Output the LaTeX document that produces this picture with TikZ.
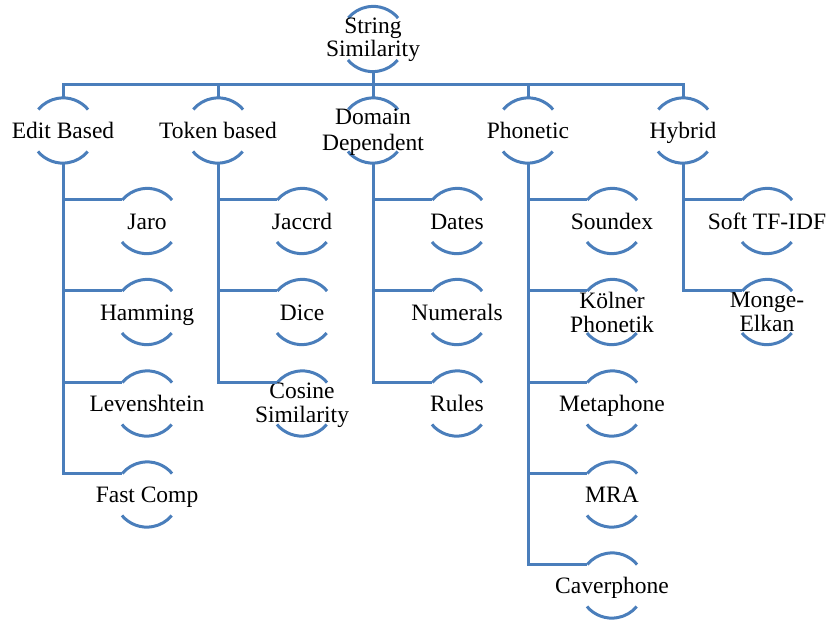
\documentclass[tikz,border=0pt]{standalone}
\usepackage{fontspec}
\setmainfont{Liberation Serif}
\newfontfamily\tnr{Liberation Serif}
\definecolor{lineblue}{HTML}{4A7EBB}
\newcommand\drawarcs[1]{%
  \draw[arcline] (#1.40) arc[start angle=40,end angle=140,radius=32.5pt]
                 (#1.220) arc[start angle=220,end angle=320,radius=32.5pt];}
\newcommand\arcnode[4]{%
  \node[ring] (#1) at (#2,#3) {};
  \drawarcs{#1}
  \node[lbl,text height=21pt,text depth=5pt] (#1-t) at (#1) {#4};}
% two-line node: #5 = line distance, #6 = vertical shift of the text block
\newcommand\arcnodeii[6]{%
  \node[ring] (#1) at (#2,#3) {};
  \drawarcs{#1}
  \node[lbl,align=center,font=\tnr\fontsize{23.5}{#5}\selectfont,yshift=-#6] (#1-t) at (#1) {#4};}
\begin{document}
\begin{tikzpicture}[x=1pt,y=-1pt,
  conn/.style={draw=lineblue,line width=3pt},
  arcline/.style={draw=lineblue,line width=3pt},
  ring/.style={circle,minimum size=65pt,inner sep=0pt,draw=none},
  lbl/.style={font=\tnr\fontsize{23.5}{24}\selectfont,inner sep=0pt}]
\useasboundingbox (0,0) rectangle (829,621);
% root
\arcnodeii{root}{373}{39}{String\\Similarity}{22.5}{1pt}
% level 1
\arcnode{eb}{63}{130.5}{Edit Based}
\arcnode{tb}{218}{130.5}{Token based}
\arcnodeii{dd}{373}{130.5}{Domain\\Dependent}{26}{1.8pt}
\arcnode{ph}{528}{130.5}{Phonetic}
\arcnode{hy}{683}{130.5}{Hybrid}
% edit based children
\arcnode{jaro}{147}{221}{Jaro}
\arcnode{ham}{147}{312}{Hamming}
\arcnode{lev}{147}{403.5}{Levenshtein}
\arcnode{fc}{147}{494.5}{Fast Comp}
% token based children
\arcnode{jac}{302}{221}{Jaccrd}
\arcnode{dice}{302}{312}{Dice}
\arcnodeii{cos}{302}{403.5}{Cosine\\Similarity}{24}{1.8pt}
% domain dependent children
\arcnode{dates}{457}{221}{Dates}
\arcnode{num}{457}{312}{Numerals}
\arcnode{rules}{457}{403.5}{Rules}
% phonetic children
\arcnode{sdx}{612}{221}{Soundex}
\arcnodeii{kp}{612}{312}{Kölner\\Phonetik}{24}{0pt}
\arcnode{meta}{612}{403.5}{Metaphone}
\arcnode{mra}{612}{494.5}{MRA}
\arcnode{cav}{612}{585.5}{Caverphone}
% hybrid children
\arcnode{stf}{767}{221}{Soft TF-IDF}
\arcnodeii{me}{767}{312}{Monge-\\Elkan}{24}{0pt}
% connectors
\coordinate (bus) at (373,84);
\draw[conn] (root.south) -- (bus);
\foreach \n in {eb,tb,dd,ph,hy} \draw[conn] (\n.north) |- (bus);
\foreach \n in {jaro,ham,lev,fc} \draw[conn] (eb.south) |- (\n.140);
\foreach \n in {jac,dice,cos} \draw[conn] (tb.south) |- (\n.140);
\foreach \n in {dates,num,rules} \draw[conn] (dd.south) |- (\n.140);
\foreach \n in {sdx,kp,meta,mra,cav} \draw[conn] (ph.south) |- (\n.140);
\foreach \n in {stf,me} \draw[conn] (hy.south) |- (\n.140);
\end{tikzpicture}
\end{document}
